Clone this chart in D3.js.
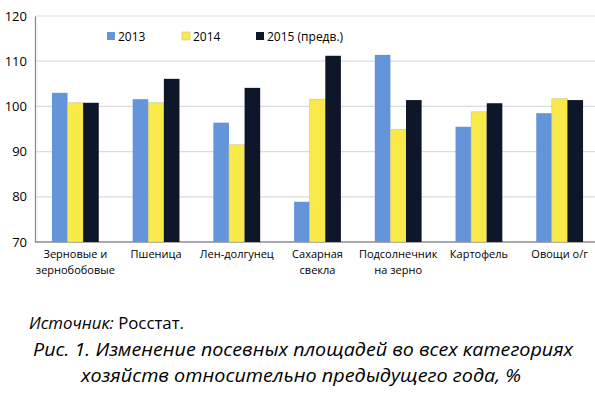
<!DOCTYPE html>
<html>
<head>
<meta charset="utf-8">
<script src="https://cdn.jsdelivr.net/npm/d3@7"></script>
<style>
  body { margin: 0; background: #fff; }
  svg { display: block; font-family: "Open Sans", "Noto Sans", sans-serif; }
</style>
</head>
<body>
<svg id="chart" width="595" height="393"></svg>
<script>
// data
var categories = [
  ["Зерновые и", "зернобобовые"],
  ["Пшеница"],
  ["Лен-долгунец"],
  ["Сахарная", "свекла"],
  ["Подсолнечник", "на зерно"],
  ["Картофель"],
  ["Овощи о/г"]
];
var seriesNames = ["2013", "2014", "2015 (предв.)"];
var values2013 = [103.0, 101.6, 96.4, 78.9, 111.4, 95.5, 98.5];
var values2014 = [100.8, 100.8, 91.5, 101.6, 94.9, 98.8, 101.7];
var values2015 = [100.8, 106.1, 104.1, 111.2, 101.4, 100.7, 101.4];
var yTicks = [70, 80, 90, 100, 110, 120];

var colors = ["#6495da", "#f9ea4a", "#0e1629"];
var series = [values2013, values2014, values2015];

var svg = d3.select("#chart");
var plotLeft = 35, plotRight = 600, plotTop = 16, plotBottom = 242;

var x = d3.scaleBand().domain(d3.range(categories.length)).range([plotLeft, plotRight]).padding(0);
var y = d3.scaleLinear().domain([70, 120]).range([plotBottom, plotTop]);
var barW = 15.6;

// grid
svg.append("g").selectAll("line")
  .data(yTicks.slice(1))
  .enter().append("line")
  .attr("x1", plotLeft).attr("x2", 595)
  .attr("y1", d => y(d)).attr("y2", d => y(d))
  .attr("stroke", "#d9dbe0").attr("stroke-width", 1.2);

// axes
var yAxis = d3.axisLeft(y).tickValues(yTicks).tickSize(0).tickPadding(8);
var gy = svg.append("g").attr("transform", "translate(" + plotLeft + ",0)").call(yAxis);
gy.select(".domain").attr("stroke", "#8c8c8c").attr("stroke-width", 1.3);
gy.selectAll("text").attr("font-size", 13).attr("fill", "#000").attr("font-family", "Open Sans");

svg.append("line")
  .attr("x1", plotLeft).attr("x2", 595)
  .attr("y1", plotBottom).attr("y2", plotBottom)
  .attr("stroke", "#8c8c8c").attr("stroke-width", 1.3);

// bars
series.forEach(function(vals, si) {
  svg.append("g").selectAll("rect")
    .data(vals)
    .enter().append("rect")
    .attr("x", (d, i) => x(i) + x.bandwidth() / 2 - barW * 1.5 + si * barW)
    .attr("y", d => y(d))
    .attr("width", barW)
    .attr("height", d => plotBottom - y(d))
    .attr("fill", colors[si])
    .attr("stroke", si == 1 ? "#c9c38a" : "none")
    .attr("stroke-width", 0.6);
});

// category labels
var cat = svg.append("g");
categories.forEach(function(lines, i) {
  var t = cat.append("text")
    .attr("x", x(i) + x.bandwidth() / 2)
    .attr("y", 258)
    .attr("text-anchor", "middle")
    .attr("font-size", 11)
    .attr("fill", "#000");
  lines.forEach(function(l, j) {
    t.append("tspan").attr("x", x(i) + x.bandwidth() / 2).attr("dy", j == 0 ? 0 : 15.5).text(l);
  });
});

// legend
var legX = [107, 182, 256];
seriesNames.forEach(function(name, i) {
  svg.append("rect")
    .attr("x", legX[i]).attr("y", 32)
    .attr("width", 8).attr("height", 8)
    .attr("fill", colors[i])
    .attr("stroke", i == 1 ? "#c9c38a" : "none").attr("stroke-width", 0.6);
  svg.append("text")
    .attr("x", legX[i] + 11).attr("y", 40.5)
    .attr("font-size", 12).attr("fill", "#000")
    .text(name);
});

// captions
var src = svg.append("text").attr("x", 29).attr("y", 329).attr("font-size", 16).attr("fill", "#000")
  .attr("textLength", 155).attr("lengthAdjust", "spacingAndGlyphs");
src.append("tspan").attr("font-style", "italic").text("Источник:");
src.append("tspan").text(" Росстат.");

svg.append("text")
  .attr("x", 303).attr("y", 356)
  .attr("text-anchor", "middle")
  .attr("font-size", 19).attr("font-style", "italic").attr("fill", "#000")
  .attr("textLength", 540).attr("lengthAdjust", "spacingAndGlyphs")
  .text("Рис. 1. Изменение посевных площадей во всех категориях");
svg.append("text")
  .attr("x", 301).attr("y", 382)
  .attr("text-anchor", "middle")
  .attr("font-size", 19).attr("font-style", "italic").attr("fill", "#000")
  .attr("textLength", 440).attr("lengthAdjust", "spacingAndGlyphs")
  .text("хозяйств относительно предыдущего года, %");
</script>
</body>
</html>
